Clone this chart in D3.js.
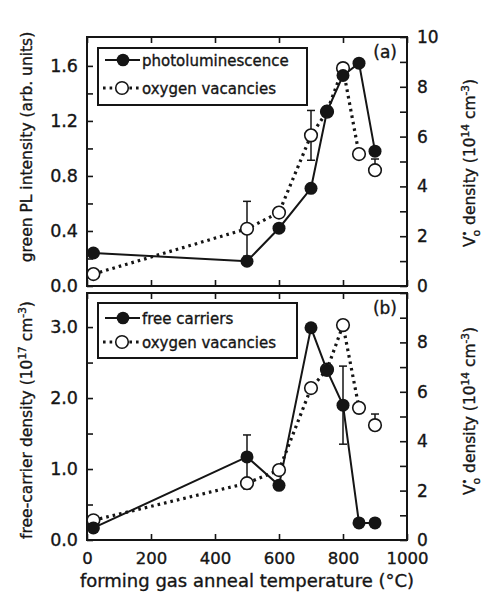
<!DOCTYPE html>
<html><head><meta charset="utf-8">
<script src="https://cdn.jsdelivr.net/npm/d3@7/dist/d3.min.js"></script>
<style>
html,body{margin:0;padding:0;background:#fff;}
svg text{font-family:"DejaVu Sans",sans-serif;fill:#151515;stroke:#151515;stroke-width:0.35px;}
</style></head>
<body><svg id="c" width="495" height="599"></svg>
<script>
// ---- data ----
const temps = [20, 500, 600, 700, 750, 800, 850, 900];
// panel (a)
const plIntensity = [0.24, 0.18, 0.42, 0.71, 1.27, 1.53, 1.62, 0.98];
const vacanciesA = [0.48, 2.3, 2.95, 6.05, 7.0, 8.75, 5.3, 4.65];
const vacErrUpA = [0, 1.1, 0, 1.0, 0, 0, 0, 0.45];
const vacErrDownA = [0, 1.1, 0, 1.0, 0, 0, 0, 0];
// panel (b)
const freeCarriers = [0.17, 1.17, 0.77, 2.99, 2.39, 1.90, 0.24, 0.24];
const fcErrUp = [0, 0.31, 0, 0, 0, 0.55, 0, 0];
const fcErrDown = [0, 0.45, 0, 0, 0, 0.55, 0, 0];
const vacanciesB = [0.8, 2.3, 2.83, 6.15, 6.9, 8.7, 5.35, 4.65];
const vacErrUpB = [0, 0, 0, 0, 0, 0, 0, 0.45];
const vacErrDownB = [0, 0, 0, 0, 0, 0, 0, 0];
const vacJoined = [true, true, true, true, true, true, true, false];
// ticks
const xTickLabels = [0, 200, 400, 600, 800, 1000];
const leftTicksA = [0, 0.2, 0.4, 0.6, 0.8, 1.0, 1.2, 1.4, 1.6];
const leftLabelsA = [0, 0.4, 0.8, 1.2, 1.6];
const leftTicksB = [0, 0.5, 1.0, 1.5, 2.0, 2.5, 3.0];
const leftLabelsB = [0, 1.0, 2.0, 3.0];
const rightTicks = [0,1,2,3,4,5,6,7,8,9,10];
const rightLabelsA = [0,2,4,6,8,10];
const rightLabelsB = [0,2,4,6,8];
const legendA = ["photoluminescence", "oxygen vacancies"];
const legendB = ["free carriers", "oxygen vacancies"];

// ---- layout ----
const svg = d3.select("#c");
const X0 = 87, X1 = 407;
const ink = "#151515";
const x = d3.scaleLinear().domain([0, 1000]).range([X0, X1]);

function panel(cfg) {
  const g = svg.append("g");
  const yL = d3.scaleLinear().domain(cfg.leftDomain).range([cfg.bottom, cfg.top]);
  const yR = d3.scaleLinear().domain([0, 10]).range([cfg.bottom, cfg.top]);
  const fmt1 = d3.format(".1f");

  const la = g.append("g").attr("transform", `translate(${X0},0)`)
    .call(d3.axisLeft(yL).tickValues(cfg.leftTicks).tickSizeInner(-6).tickSizeOuter(0).tickPadding(9)
      .tickFormat(d => cfg.leftLabels.some(v => Math.abs(v - d) < 1e-9) ? fmt1(d) : ""));
  const ra = g.append("g").attr("transform", `translate(${X1},0)`)
    .call(d3.axisRight(yR).tickValues(rightTicks).tickSizeInner(-7).tickSizeOuter(0).tickPadding(10)
      .tickFormat(d => cfg.rightLabels.includes(d) ? d : ""));
  g.append("g").attr("transform", `translate(0,${cfg.top})`)
    .call(d3.axisTop(x).tickValues(xTickLabels).tickSizeInner(-6).tickSizeOuter(0).tickFormat(""));
  const ba = g.append("g").attr("transform", `translate(0,${cfg.bottom})`)
    .call(d3.axisBottom(x).tickValues(xTickLabels).tickSizeInner(-6).tickSizeOuter(0).tickPadding(12)
      .tickFormat(cfg.showX ? (d => d) : ""));
  la.selectAll("text").style("font-size", "17.5px").attr("fill", ink);
  ra.selectAll("text").style("font-size", "17px").attr("fill", ink);
  ba.selectAll("text").style("font-size", "16.5px").attr("fill", ink);
  g.selectAll(".tick line").attr("stroke", ink).attr("stroke-width", 1.6);
  g.selectAll(".domain").remove();
  g.append("rect").attr("x", X0).attr("y", cfg.top).attr("width", X1 - X0).attr("height", cfg.bottom - cfg.top)
    .attr("fill", "none").attr("stroke", ink).attr("stroke-width", 2);

  const openIdx = temps.map((t, i) => i).filter(i => vacJoined[i]);
  g.append("path").datum(openIdx)
    .attr("d", d3.line().x(i => x(temps[i])).y(i => yR(cfg.vac[i])))
    .attr("fill", "none").attr("stroke", ink).attr("stroke-width", 3.2)
    .attr("stroke-dasharray", "2.6,4");
  g.append("path").datum(temps.map((t, i) => i))
    .attr("d", d3.line().x(i => x(temps[i])).y(i => yL(cfg.main[i])))
    .attr("fill", "none").attr("stroke", ink).attr("stroke-width", 2);

  function errBars(vals, up, down, ys) {
    temps.forEach((t, i) => {
      if (!up[i] && !down[i]) return;
      const cx = x(t), yt = ys(vals[i] + up[i]), yb = ys(vals[i] - down[i]);
      g.append("line").attr("x1", cx).attr("x2", cx).attr("y1", yt).attr("y2", yb)
        .attr("stroke", ink).attr("stroke-width", 1.5);
      if (up[i]) g.append("line").attr("x1", cx - 4).attr("x2", cx + 4).attr("y1", yt).attr("y2", yt)
        .attr("stroke", ink).attr("stroke-width", 1.5);
      if (down[i]) g.append("line").attr("x1", cx - 4).attr("x2", cx + 4).attr("y1", yb).attr("y2", yb)
        .attr("stroke", ink).attr("stroke-width", 1.5);
    });
  }
  errBars(cfg.vac, cfg.vacUp, cfg.vacDown, yR);
  errBars(cfg.main, cfg.mainUp, cfg.mainDown, yL);

  g.selectAll(".open").data(temps).enter().append("circle")
    .attr("cx", d => x(d)).attr("cy", (d, i) => yR(cfg.vac[i])).attr("r", 6.3)
    .attr("fill", "#fff").attr("stroke", ink).attr("stroke-width", 1.6);
  g.selectAll(".fill").data(temps).enter().append("circle")
    .attr("cx", d => x(d)).attr("cy", (d, i) => yL(cfg.main[i])).attr("r", 6.5)
    .attr("fill", ink);

  const L = cfg.legend;
  g.append("rect").attr("x", L.x).attr("y", L.y).attr("width", L.w).attr("height", L.h)
    .attr("fill", "#fff").attr("stroke", ink).attr("stroke-width", 2);
  const r1 = L.y + L.row1, r2 = L.y + L.row2;
  g.append("line").attr("x1", L.x + 7).attr("x2", L.x + 42).attr("y1", r1).attr("y2", r1)
    .attr("stroke", ink).attr("stroke-width", 2);
  g.append("circle").attr("cx", L.x + 25).attr("cy", r1).attr("r", 6.3).attr("fill", ink);
  g.append("line").attr("x1", L.x + 5).attr("x2", L.x + 42).attr("y1", r2).attr("y2", r2)
    .attr("stroke", ink).attr("stroke-width", 3).attr("stroke-dasharray", "2.6,4");
  g.append("circle").attr("cx", L.x + 24).attr("cy", r2).attr("r", 6.3).attr("fill", "#fff")
    .attr("stroke", ink).attr("stroke-width", 1.6);
  [cfg.legendText[0], cfg.legendText[1]].forEach((t, k) => {
    g.append("text").attr("x", L.x + 44).attr("y", (k ? r2 : r1) + 5.5).text(t)
      .style("font-size", "15px");
  });
  g.append("text").attr("x", 397).attr("y", cfg.top + 21).attr("text-anchor", "end")
    .text(cfg.tag).style("font-size", "17px");
  return { yL, yR };
}

panel({
  top: 37, bottom: 286, leftDomain: [0, 1.81],
  leftTicks: leftTicksA, leftLabels: leftLabelsA, rightLabels: rightLabelsA, showX: false,
  main: plIntensity, mainUp: temps.map(() => 0), mainDown: temps.map(() => 0),
  vac: vacanciesA, vacUp: vacErrUpA, vacDown: vacErrDownA,
  legend: { x: 98, y: 48, w: 209, h: 57, row1: 12, row2: 40 },
  legendText: legendA, tag: "(a)"
});
panel({
  top: 293, bottom: 540, leftDomain: [0, 3.48],
  leftTicks: leftTicksB, leftLabels: leftLabelsB, rightLabels: rightLabelsB, showX: true,
  main: freeCarriers, mainUp: fcErrUp, mainDown: fcErrDown,
  vac: vacanciesB, vacUp: vacErrUpB, vacDown: vacErrDownB,
  legend: { x: 98, y: 303, w: 199, h: 55, row1: 15, row2: 39 },
  legendText: legendB, tag: "(b)"
});

function rotTitle(cx, cy, parts) {
  const t = svg.append("text").attr("transform", `translate(${cx},${cy}) rotate(-90)`)
    .attr("text-anchor", "middle").style("font-size", "15.5px");
  parts.forEach(p => {
    const s = t.append("tspan").text(p.t);
    if (p.dy) s.attr("dy", p.dy);
    if (p.dx) s.attr("dx", p.dx);
    if (p.fs) s.style("font-size", p.fs);
  });
}
rotTitle(32, 147, [{ t: "green PL intensity (arb. units)" }]);
rotTitle(32, 420, [
  { t: "free-carrier density (10" }, { t: "17", dy: -6, fs: "10.5px" },
  { t: " cm", dy: 6 }, { t: "-3", dy: -6, fs: "10.5px" }, { t: ")", dy: 6 }
]);
function rightTitle(cy) {
  rotTitle(475, cy, [
    { t: "V" }, { t: "•", dy: -7, fs: "10px" }, { t: "o", dy: 12, dx: -6, fs: "11px" },
    { t: " density (10", dy: -5 }, { t: "14", dy: -6, fs: "10.5px" },
    { t: " cm", dy: 6 }, { t: "-3", dy: -6, fs: "10.5px" }, { t: ")", dy: 6 }
  ]);
}
rightTitle(163);
rightTitle(411);

svg.append("text").attr("x", 247).attr("y", 587).attr("text-anchor", "middle")
  .style("font-size", "18px").text("forming gas anneal temperature  (°C)");
</script>
</body></html>
